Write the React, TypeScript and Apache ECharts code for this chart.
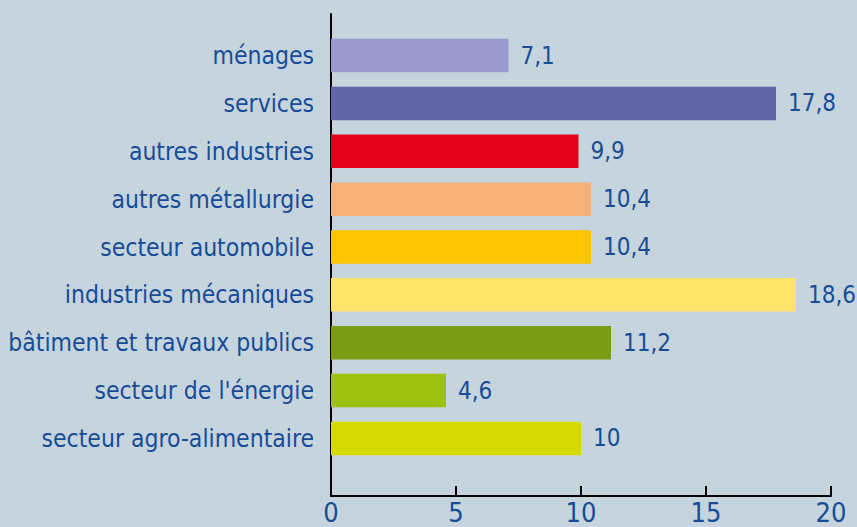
import React, { useEffect, useRef } from "react";
import * as echarts from "echarts";

const categories = [
  "ménages",
  "services",
  "autres industries",
  "autres métallurgie",
  "secteur automobile",
  "industries mécaniques",
  "bâtiment et travaux publics",
  "secteur de l'énergie",
  "secteur agro-alimentaire",
];
const values = [7.1, 17.8, 9.9, 10.4, 10.4, 18.6, 11.2, 4.6, 10];
const barColors = [
  "#999acb",
  "#6066a7",
  "#e3001b",
  "#f6b17b",
  "#fdc400",
  "#ffe46c",
  "#7a9b14",
  "#9cc10e",
  "#d5d900",
];
const xTicks = [0, 5, 10, 15, 20];

const FONT = "'DejaVu Sans Condensed', sans-serif";
const TEXT = "#174c97";
const FS = 24.5;

export default function App() {
  const ref = useRef<HTMLDivElement>(null);
  useEffect(() => {
    if (!ref.current) return;
    const chart = echarts.init(ref.current, null, { renderer: "svg" });
    chart.setOption({
      animation: false,
      backgroundColor: "#c6d4de",
      grid: [
        {
          left: 331,
          right: 26,
          top: 31.6,
          bottom: 64.6,
          containLabel: false,
          outerBoundsMode: "none",
        },
        {
          left: 331,
          right: 26,
          top: 14,
          bottom: 31,
          containLabel: false,
          outerBoundsMode: "none",
        },
      ],
      xAxis: [
        {
          gridIndex: 0,
          type: "value",
          min: xTicks[0],
          max: xTicks[xTicks.length - 1],
          interval: 5,
          show: false,
        },
        {
          gridIndex: 1,
          type: "value",
          min: xTicks[0],
          max: xTicks[xTicks.length - 1],
          interval: 5,
          axisLine: { show: true, lineStyle: { color: "#000", width: 2 } },
          axisTick: {
            show: true,
            inside: true,
            length: 10,
            lineStyle: { color: "#000", width: 2 },
          },
          splitLine: { show: false },
          axisLabel: {
            color: TEXT,
            fontFamily: FONT,
            fontSize: 27,
            margin: 3,
          },
        },
      ],
      yAxis: [
        {
          gridIndex: 0,
          type: "category",
          data: categories,
          inverse: true,
          axisLine: { show: false },
          axisTick: { show: false },
          axisLabel: {
            color: TEXT,
            fontFamily: FONT,
            fontSize: FS,
            margin: 17,
          },
        },
        {
          gridIndex: 1,
          type: "value",
          min: 0,
          max: 1,
          axisLine: { show: true, lineStyle: { color: "#000", width: 2 } },
          axisTick: { show: false },
          axisLabel: { show: false },
          splitLine: { show: false },
        },
      ],
      series: [
        {
          type: "bar",
          xAxisIndex: 0,
          yAxisIndex: 0,
          barWidth: 33.5,
          data: values.map((v, i) => ({
            value: v,
            itemStyle: { color: barColors[i] },
          })),
          label: {
            show: true,
            position: "right",
            distance: 12,
            color: TEXT,
            fontFamily: FONT,
            fontSize: 24,
            formatter: (p: any) => String(p.value).replace(".", ","),
          },
        },
      ],
    });
    return () => chart.dispose();
  }, []);
  return (
    <div
      ref={ref}
      style={{ position: "fixed", left: 0, top: 0, width: 857, height: 527 }}
    />
  );
}
